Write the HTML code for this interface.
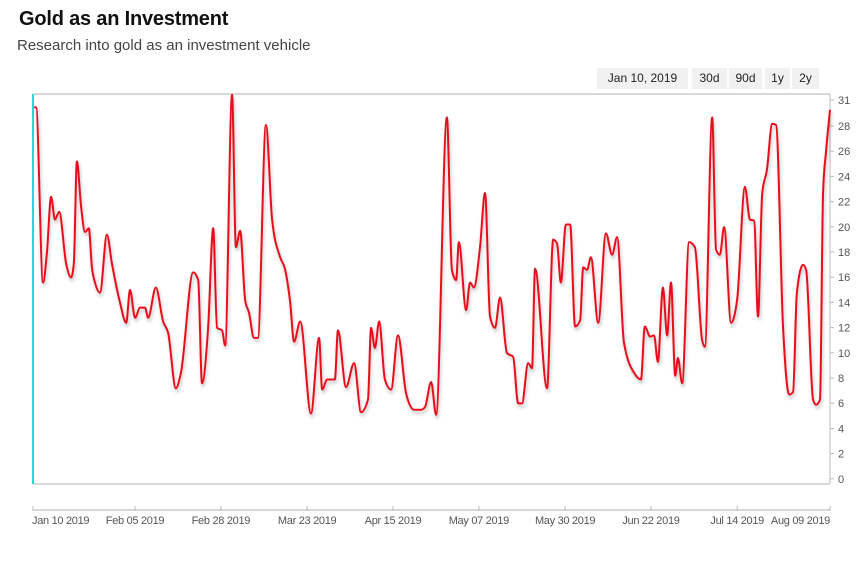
<!DOCTYPE html>
<html><head><meta charset="utf-8">
<style>
body{margin:0;background:#fff;width:868px;height:562px;overflow:hidden;font-family:"Liberation Sans",sans-serif}
.t{position:absolute;left:19px;top:8px;font-size:20px;font-weight:bold;color:#111;letter-spacing:-0.2px}
.s{position:absolute;left:17px;top:37px;font-size:15px;color:#444}
.b{position:absolute;top:68px;height:21px;line-height:21px;background:#f1f1f1;font-size:12px;color:#222;text-align:center}
</style></head><body>
<div class="t">Gold as an Investment</div>
<div class="s">Research into gold as an investment vehicle</div>
<div class="b" style="left:597px;width:91px">Jan 10, 2019</div>
<div class="b" style="left:692px;width:35px">30d</div>
<div class="b" style="left:729px;width:33px">90d</div>
<div class="b" style="left:765px;width:25px">1y</div>
<div class="b" style="left:792px;width:27px">2y</div>
<svg id="c" width="868" height="562" style="position:absolute;left:0;top:0">
<defs><filter id="sh" x="-5%" y="-5%" width="110%" height="120%"><feDropShadow dx="1" dy="3" stdDeviation="1.5" flood-color="#000" flood-opacity="0.25"/></filter></defs>
</svg>
<script>
const days=[0.3,0.8,2.6,3.6,4.7,5.7,6.8,8.6,9.9,10.6,11.4,12.5,13.5,14.5,15.3,16.1,17.4,19.2,20.5,22.6,24.2,25.2,26.5,27.8,29.1,29.9,31.9,33.8,35.1,37.1,38.4,41.6,42.9,43.9,45.5,46.8,47.8,49.1,49.9,51.7,52.7,53.8,55.1,56.1,57.4,58.4,60.5,62.1,64.2,65.5,66.8,67.8,69.4,72.2,74.3,75.1,76.4,78.4,79.2,81.3,83.4,85.2,87,87.8,88.8,89.9,91.4,93,94.8,96.9,99,100.8,101.8,103.4,104.7,107.5,108.8,109.9,110.6,112.5,113.5,114.5,116.1,117.4,118.7,120,121.3,123.1,124.7,126,127,128.6,129.6,130.4,133.5,135.1,136.1,137.1,138.4,139.5,140.8,142.1,142.9,143.9,144.9,146.8,148.8,150.4,151.7,153.5,156.4,157.9,158.9,160.3,161.3,162.3,163.6,164.7,165.7,166.8,167.5,168.6,170.4,171.9,173.8,174.5,176.4,177.4,178.4,179.5,181.3,182.9,184.9,186.2,187.3,188.3,189.4,190.6,192,193,194.8,196.4,197.4,198.4,200,200.8,202.6,203.4,204.4,205.2,206,207];
const values=[29.8,29.8,15.9,18.2,22.7,20.9,21.5,17.4,16.3,17.4,25.5,21.9,19.9,20.2,17.1,15.9,15.1,19.7,17.4,14.3,12.7,15.3,13.1,13.9,13.9,13.1,15.5,12.8,11.9,7.5,8.7,16.7,16.1,7.9,12.4,20.2,12.3,12.1,10.9,30.8,18.7,20,14.5,13.5,11.5,11.5,28.4,20.9,17.9,16.9,14.3,11.2,12.8,5.5,11.5,7.4,8.2,8.2,12.1,7.6,9.5,5.6,6.6,12.3,10.7,12.8,8.2,7.4,11.7,7.1,5.8,5.8,6,8,5.4,29,16.9,16.1,19.1,13.7,15.9,15.5,18.7,23,13.2,12.3,14.7,10.3,10,6.3,6.3,9.5,9.1,17,7.5,19.3,19,15.9,20.5,20.5,12.4,12.9,17.1,16.9,17.9,12.7,19.8,18.1,19.5,11.1,8.6,8.2,12.4,11.6,11.7,9.6,15.5,11.7,15.9,8.5,9.9,7.9,19.1,18.7,11.3,10.8,29,18.5,18.1,20.3,12.7,14.6,23.5,20.9,20.8,13.2,23,24.8,28.5,28.4,12.4,7,7.2,15.1,17.3,16.9,6.6,6.2,6.6,23,26.4,29.6];
const yTicks=[0,2,4,6,8,10,12,14,16,18,20,22,24,26,28,31];
const xTickDays=[0,26.5,48.8,71.2,93.5,115.8,138.2,160.5,182.9,207];
const xTickLabels=["Jan 10 2019","Feb 05 2019","Feb 28 2019","Mar 23 2019","Apr 15 2019","May 07 2019","May 30 2019","Jun 22 2019","Jul 14 2019","Aug 09 2019"];
const X0=33,X1=830,D1=207;
const xs=d=>X0+(X1-X0)*d/D1;
const ys=v=>382-(v-8)*12.6;
const svg=document.getElementById('c');
const NS='http://www.w3.org/2000/svg';
function mk(t,a){const e=document.createElementNS(NS,t);for(const k in a)e.setAttribute(k,a[k]);svg.appendChild(e);return e;}
let e;
e=mk('line',{x1:X0,y1:94,x2:X1,y2:94,stroke:'#ccc','stroke-width':1.5});


e=mk('line',{x1:X0,y1:484,x2:X1,y2:484,stroke:'#ccc','stroke-width':1.5});


e=mk('line',{x1:X1,y1:94,x2:X1,y2:484,stroke:'#bbb','stroke-width':1});


e=mk('line',{x1:X0,y1:94,x2:X0,y2:484,stroke:'#2dd4d8','stroke-width':2});


yTicks.forEach(v=>{
 const y=v===31?100:ys(v)-4;
 const tk=mk('line',{x1:X1,y1:y,x2:X1+4,y2:y,stroke:'#bbb'});
 
 
 const t=mk('text',{x:838,y:y+4,'font-size':11,fill:'#555'});t.textContent=v;
 
 
});
e=mk('line',{x1:X0,y1:510,x2:X1,y2:510,stroke:'#ccc','stroke-width':1.5});


xTickDays.forEach((d,i)=>{
 const x=xs(d);
 const tk=mk('line',{x1:x,y1:506,x2:x,y2:511,stroke:'#bbb'});
 
 
 const anchor=i===0?'start':(i===xTickDays.length-1?'end':'middle');
 const t=mk('text',{x:i===0?x-1:x,y:524,'font-size':11,fill:'#555','text-anchor':anchor,'letter-spacing':'-0.3'});
 t.textContent=xTickLabels[i];
 
 
});
// monotone-x cubic interpolation
const P=days.map((d,i)=>[xs(d),ys(values[i])]);
const n=P.length,m=new Array(n),sl=[];
for(let i=0;i<n-1;i++)sl.push((P[i+1][1]-P[i][1])/(P[i+1][0]-P[i][0]));
m[0]=sl[0];m[n-1]=sl[n-2];
for(let i=1;i<n-1;i++){
 if(sl[i-1]*sl[i]<=0)m[i]=0;
 else{const h0=P[i][0]-P[i-1][0],h1=P[i+1][0]-P[i][0];const p=(sl[i-1]*h1+sl[i]*h0)/(h0+h1);
 m[i]=(Math.sign(sl[i-1])+Math.sign(sl[i]))*Math.min(Math.abs(sl[i-1]),Math.abs(sl[i]),0.5*Math.abs(p));}
}
let dstr='M'+P[0][0]+','+P[0][1];
for(let i=0;i<n-1;i++){
 const h=(P[i+1][0]-P[i][0])/3;
 dstr+=` C${P[i][0]+h},${P[i][1]+m[i]*h} ${P[i+1][0]-h},${P[i+1][1]-m[i+1]*h} ${P[i+1][0]},${P[i+1][1]}`;
}
e=mk('path',{d:dstr,fill:'none',stroke:'#e8101c','stroke-width':2,'stroke-linejoin':'round',filter:'url(#sh)'});


</script>
</body></html>
